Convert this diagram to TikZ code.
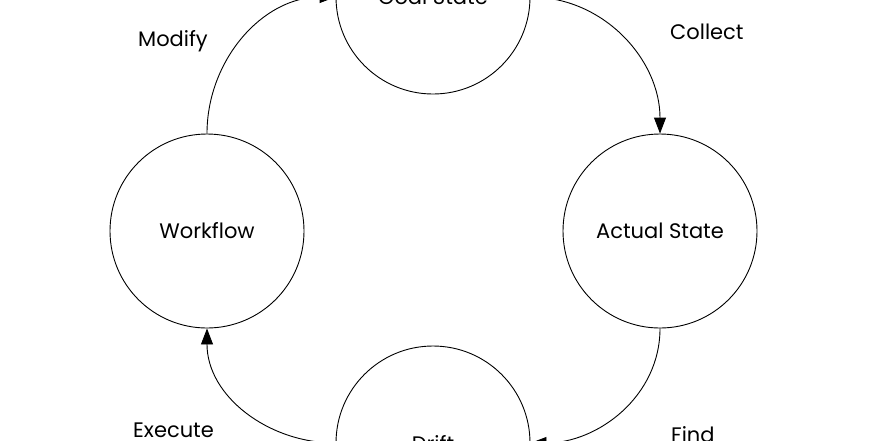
\documentclass[tikz,border=0pt]{standalone}
\usepackage{fontspec}
\setmainfont{Poppins}
\usetikzlibrary{arrows.meta}
\begin{document}
\begin{tikzpicture}[x=1pt,y=-1pt,
  state/.style={draw=black,line width=0.9pt,circle,minimum size=194pt,inner sep=0pt,font=\fontsize{21}{24}\selectfont},
  lbl/.style={font=\fontsize{21}{24}\selectfont,inner sep=0pt,anchor=base west},
  flow/.style={draw=black,line width=0.9pt,-{Triangle[length=16pt,width=12pt]}}]
\clip (0,0) rectangle (880,440);
\fill[white] (0,0) rectangle (880,440);
\node[state] (goal) at (433,-3) {Goal State};
\node[state] (actual) at (660,231) {Actual State};
\node[state] (drift) at (433,443) {Drift};
\node[state] (wf) at (207,231) {Workflow};
\draw[flow] (wf.north) to[out=90,in=180] (goal.west);
\draw[flow] (goal.east) to[out=0,in=90] (actual.north);
\draw[flow] (actual.south) to[out=-90,in=0] (drift.east);
\draw[flow] (drift.west) to[out=180,in=-90] (wf.south);
\node[lbl] (lmod) at (138,46) {Modify};
\node[lbl] (lcol) at (670,39) {Collect};
\node[lbl] (lexe) at (133,437) {Execute};
\node[lbl] (lfind) at (671,442) {Find};
\end{tikzpicture}
\end{document}
